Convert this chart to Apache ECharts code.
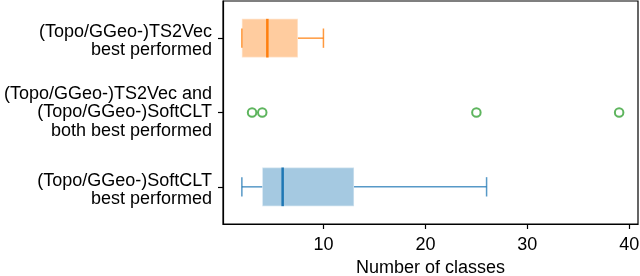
<!DOCTYPE html>
<html>
<head>
<meta charset="utf-8">
<script src="https://cdn.jsdelivr.net/npm/echarts@6/dist/echarts.min.js"></script>
<style>html,body{margin:0;padding:0;background:#fff}#c{width:640px;height:276px}</style>
</head>
<body>
<div id="c"></div>
<script>
// Data
var categories = ['(Topo/GGeo-)TS2Vec\nbest performed', '(Topo/GGeo-)TS2Vec and\n(Topo/GGeo-)SoftCLT\nboth best performed', '(Topo/GGeo-)SoftCLT\nbest performed'];
// [categoryIndex, whiskerLow, q1, median, q3, whiskerHigh]
var boxTS2Vec = [0, 2, 2, 4.5, 7.5, 10];
var boxSoftCLT = [2, 2, 4, 6, 13, 26];
var outliersBoth = [3, 4, 25, 39];
var xTicks = [10, 20, 30, 40];
var xMin = 0.15, xMax = 40.85;

var styles = {
  0: {fill: 'rgba(255,127,14,0.4)', median: '#ff7f0e', whisker: 'rgba(255,127,14,0.8)'},
  2: {fill: 'rgba(31,119,180,0.4)', median: '#1f77b4', whisker: 'rgba(31,119,180,0.75)'}
};

var font = '"Liberation Sans", Arial, Helvetica, sans-serif';
var chart = echarts.init(document.getElementById('c'), null, {renderer: 'canvas'});

function renderBox(params, api) {
  var ci = api.value(0);
  var lo = api.value(1), q1 = api.value(2), med = api.value(3), q3 = api.value(4), hi = api.value(5);
  var band = api.size([0, 1])[1];
  var h = band * 0.52;
  var cap = h / 2;
  var pLo = api.coord([lo, ci]), pQ1 = api.coord([q1, ci]), pMed = api.coord([med, ci]), pQ3 = api.coord([q3, ci]), pHi = api.coord([hi, ci]);
  var y = pLo[1];
  var st = styles[ci];
  var children = [];
  children.push({type: 'rect', shape: {x: pQ1[0], y: y - h / 2, width: pQ3[0] - pQ1[0], height: h},
    style: {fill: st.fill, stroke: 'rgba(255,255,255,0.45)', lineWidth: 1.5}});
  children.push({type: 'line', shape: {x1: pLo[0], y1: y, x2: pQ1[0], y2: y}, style: {stroke: st.whisker, lineWidth: 1.5}});
  children.push({type: 'line', shape: {x1: pQ3[0], y1: y, x2: pHi[0], y2: y}, style: {stroke: st.whisker, lineWidth: 1.5}});
  children.push({type: 'line', shape: {x1: pLo[0], y1: y - cap / 2, x2: pLo[0], y2: y + cap / 2}, style: {stroke: st.whisker, lineWidth: 1.5}});
  children.push({type: 'line', shape: {x1: pHi[0], y1: y - cap / 2, x2: pHi[0], y2: y + cap / 2}, style: {stroke: st.whisker, lineWidth: 1.5}});
  children.push({type: 'line', shape: {x1: pMed[0], y1: y - h / 2, x2: pMed[0], y2: y + h / 2}, style: {stroke: st.median, lineWidth: 2.5}});
  return {type: 'group', children: children};
}

function labelFormatter(value) {
  var lines = value.split('\n');
  var out = lines.map(function (l) { return '{n|' + l + '}'; });
  if (lines.length === 2) { out.unshift('{s| }'); }
  return out.join('\n');
}

var option = {
  animation: false,
  grid: {left: 223, right: 2, top: 1, bottom: 52, outerBoundsMode: 'none', containLabel: false, show: true, borderColor: '#000', borderWidth: 1.2, backgroundColor: 'transparent'},
  xAxis: {
    type: 'value', min: xMin, max: xMax,
    name: 'Number of classes', nameLocation: 'middle', nameGap: 32,
    nameTextStyle: {fontFamily: font, fontSize: 18, color: '#000'},
    axisLine: {show: true, lineStyle: {color: '#000', width: 1.2}},
    axisTick: {show: true, length: 5, customValues: xTicks, lineStyle: {color: '#000', width: 1.2}},
    axisLabel: {customValues: xTicks, fontFamily: font, fontSize: 18, color: '#000', margin: 12},
    splitLine: {show: false}
  },
  yAxis: {
    type: 'category', data: categories, inverse: true,
    axisLine: {show: true, lineStyle: {color: '#000', width: 1.2}},
    axisTick: {show: true, alignWithLabel: true, length: 5, lineStyle: {color: '#000', width: 1.2}},
    axisLabel: {
      fontFamily: font, fontSize: 18, color: '#000', lineHeight: 18.3, align: 'right', margin: 11,
      formatter: labelFormatter,
      rich: {
        n: {fontFamily: font, fontSize: 18, color: '#000', lineHeight: 18.3, align: 'right'},
        s: {fontSize: 1, lineHeight: 6}
      }
    },
    splitLine: {show: false}
  },
  series: [
    {type: 'custom', renderItem: renderBox, data: [boxTS2Vec, boxSoftCLT], encode: {x: [1, 2, 3, 4, 5], y: 0}, z: 2},
    {type: 'scatter', data: outliersBoth.map(function (v) { return [v, 1]; }), symbol: 'circle', symbolSize: 8.5,
      itemStyle: {color: '#fff', borderColor: '#36a336', borderWidth: 2}, z: 3}
  ]
};
chart.setOption(option);
</script>
</body>
</html>
